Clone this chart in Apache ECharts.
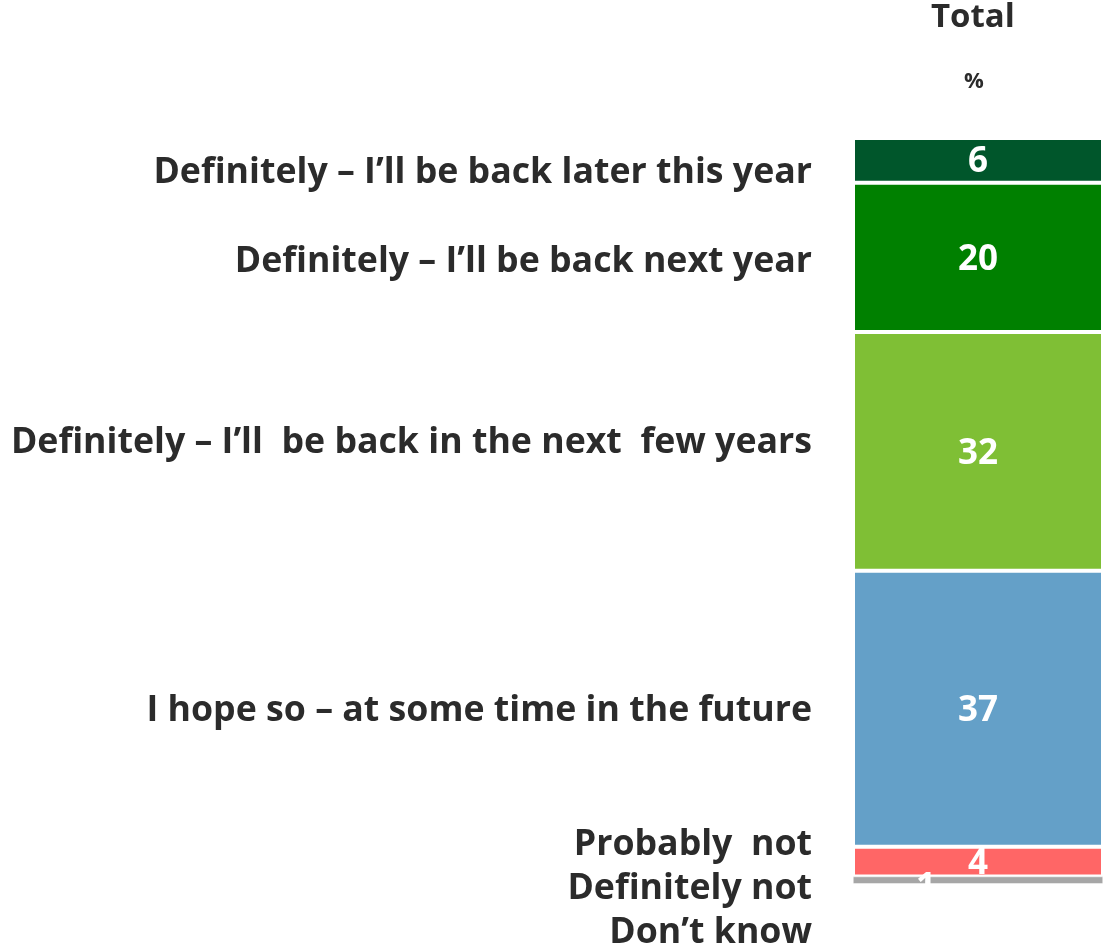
<!DOCTYPE html>
<html><head><meta charset="utf-8">
<script src="https://cdn.jsdelivr.net/npm/echarts@6/dist/echarts.min.js"></script>
<style>html,body{margin:0;padding:0;background:#fff}#c{width:1103px;height:949px}</style>
</head><body><div id="c"></div>
<script>
const categories = ["Total"];
const seriesNames = [
  "Definitely \u2013 I\u2019ll be back later this year",
  "Definitely \u2013 I\u2019ll be back next year ",
  "Definitely \u2013 I\u2019ll  be back in the next  few years",
  "I hope so \u2013 at some time in the future",
  "Probably  not",
  "Definitely not",
  "Don\u2019t know"
];
const values = [6, 20, 32, 37, 4, 1, 0];
const colors = ["#00562b", "#008000", "#7fbf35", "#64a0c8", "#ff6666", "#a6a6a6", "#d9d9d9"];

const FONT = "'Open Sans', 'DejaVu Sans', sans-serif";
const labelLayout = [173, 262, 443, 711, 845, 889, 933];
const labelOffsets = [[0,2],[0,3],[0,3],[0,2],[0,2],[-52,8],[0,0]];
const borderWidths = [2, 2, 2, 2, 2, 0.5, 0.5];

const chart = echarts.init(document.getElementById('c'));
const series = values.map((v, i) => ({
  name: seriesNames[i],
  type: 'bar',
  stack: 'total',
  barWidth: '100%',
  data: [v],
  itemStyle: { color: colors[i], borderColor: '#fff', borderWidth: borderWidths[i] },
  label: {
    show: v > 0,
    position: 'inside',
    offset: labelOffsets[i],
    color: '#fff',
    fontFamily: FONT,
    fontWeight: 'bold',
    fontSize: 35
  }
}));

chart.setOption({
  animation: false,
  grid: { left: 853, right: -6, top: 138, bottom: 65 },
  xAxis: { type: 'category', data: categories, show: false },
  yAxis: { type: 'value', min: 0, max: 100, inverse: true, show: false },
  series: series,
  graphic: [
    { type: 'text', left: 931, top: 1, style: { text: 'Total', font: "bold 33px " + FONT, fill: '#2b2b2b' } },
    { type: 'text', left: 964, top: 71, style: { text: '%', font: "bold 22px " + FONT, fill: '#2b2b2b' } }
  ].concat(seriesNames.map((n, i) => ({
    type: 'text', x: 812, y: labelLayout[i],
    style: { text: n.trimEnd(), font: "bold 35.7px " + FONT, fill: '#2b2b2b', textAlign: 'right', textVerticalAlign: 'middle' }
  })))
});
</script></body></html>
